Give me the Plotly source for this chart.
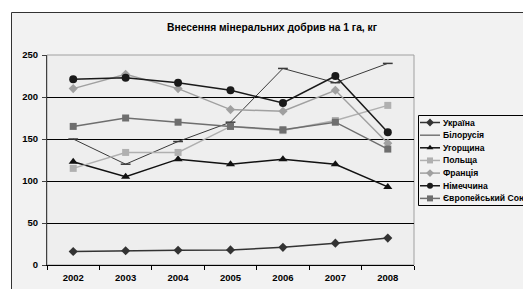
import plotly.graph_objects as go

years = ["2002", "2003", "2004", "2005", "2006", "2007", "2008"]
names = ["Україна", "Білорусія", "Угорщина", "Польща", "Франція", "Німеччина", "Європейський Союз"]
ukraine = [16, 17, 17.5, 18, 21, 26, 32]
belarus = [150, 120, 147, 170, 234, 217, 240]
hungary = [123, 105, 126, 120, 126, 120, 93]
poland = [115, 134, 134, 165, 160, 172, 190]
france = [210, 227, 210, 185, 183, 208, 145]
germany = [221, 223, 217, 208, 193, 225, 158]
eu = [165, 175, 170, 165, 161, 170, 138]
y_ticks = [0, 50, 100, 150, 200, 250]

series = [ukraine, belarus, hungary, poland, france, germany, eu]
colors = ["#333333", "#3a3a3a", "#111111", "#b0b0b0", "#a0a0a0", "#1a1a1a", "#6e6e6e"]
symbols = ["diamond", "line-ew", "triangle-up", "square", "diamond", "circle", "square"]
msizes = [7, 7, 8, 7, 7, 8, 7]
lwidths = [1.5, 1.0, 1.5, 1.5, 1.5, 1.5, 1.5]

W, H = 531, 289
OFF_X, OFF_Y = 8, 8  # page body margin
L, R, T, B = 47, 414, 55, 265  # plot area in page pixels
FONT = "Liberation Sans, Arial"


def px(x):
    return (x - OFF_X) / W


def py(y):
    return 1 - (y - OFF_Y) / H


fig = go.Figure()
for name, vals, c, s, ms, lw in zip(names, series, colors, symbols, msizes, lwidths):
    fig.add_trace(go.Scatter(
        x=years, y=vals, mode="lines+markers", name=name,
        line=dict(color=c, width=lw),
        marker=dict(symbol=s, size=ms, color=c, line=dict(color=c, width=1.5 if s == "line-ew" else 0)),
        showlegend=False, xaxis="x", yaxis="y"))

# custom legend drawn on a page-pixel overlay axis
leg_top, leg_step = 122.5, 12.65
annotations = []
for i, (name, c, s, lw) in enumerate(zip(names, colors, symbols, lwidths)):
    yy = leg_top + i * leg_step
    fig.add_trace(go.Scatter(
        x=[420, 430, 440], y=[yy, yy, yy], mode="lines",
        line=dict(color=c, width=lw), showlegend=False, hoverinfo="skip",
        xaxis="x2", yaxis="y2"))
    if s != "line-ew":
        fig.add_trace(go.Scatter(
            x=[430], y=[yy], mode="markers",
            marker=dict(symbol=s, size=6, color=c), showlegend=False, hoverinfo="skip",
            xaxis="x2", yaxis="y2"))
    annotations.append(dict(x=441, y=yy, xref="x2", yref="y2", text=f"<b>{name}</b>",
                            showarrow=False, xanchor="left", yanchor="middle",
                            font=dict(size=8.6, color="#000000", family=FONT)))

annotations.append(dict(x=272, y=27, xref="x2", yref="y2",
                        text="<b>Внесення мінеральних добрив на 1 га, кг</b>",
                        showarrow=False, xanchor="center", yanchor="middle",
                        font=dict(size=10.3, color="#000000", family=FONT)))

shapes = [
    dict(type="rect", xref="paper", yref="paper", x0=px(11.5), y0=py(12.5), x1=1.1, y1=-0.1,
         line=dict(color="#333333", width=1), fillcolor="#f2f2f2", layer="below"),
    dict(type="rect", xref="paper", yref="paper", x0=px(L), y0=py(T), x1=px(R), y1=py(B),
         line=dict(color="#a0a0a0", width=1), fillcolor="#eeeeee", layer="below"),
    dict(type="rect", xref="paper", yref="paper", x0=px(418.5), y0=py(115.5), x1=1.1, y1=py(205.5),
         line=dict(color="#000000", width=1), fillcolor="rgba(0,0,0,0)", layer="below"),
]

fig.update_layout(
    width=W, height=H,
    margin=dict(l=0, r=0, t=0, b=0, autoexpand=False),
    paper_bgcolor="#ffffff",
    plot_bgcolor="rgba(0,0,0,0)",
    font=dict(family=FONT, color="#000000"),
    shapes=shapes,
    annotations=annotations,
    xaxis=dict(domain=[px(L), px(R)], type="category", range=[-0.5, 6.5],
               tickmode="array", tickvals=years, ticktext=[f"<b>{y}</b>" for y in years],
               tickson="boundaries", ticks="outside", ticklen=4, tickcolor="#000000",
               ticklabelstandoff=4,
               showline=True, linecolor="#000000", linewidth=1, showgrid=False,
               tickfont=dict(size=9.5, family=FONT),
               anchor="y", zeroline=False, automargin=False),
    yaxis=dict(domain=[py(B), py(T)], range=[0, 250],
               tickmode="array", tickvals=y_ticks, ticktext=[f"<b>{v}</b>" for v in y_ticks],
               ticks="outside", ticklen=4, tickcolor="#404040",
               ticklabelstandoff=2,
               showline=True, linecolor="#404040", linewidth=1,
               showgrid=True, gridcolor="#000000", gridwidth=1,
               tickfont=dict(size=9.5, family=FONT),
               anchor="x", zeroline=False, automargin=False),
    xaxis2=dict(domain=[0, 1], range=[OFF_X, OFF_X + W], visible=False, fixedrange=True, anchor="y2"),
    yaxis2=dict(domain=[0, 1], range=[OFF_Y + H, OFF_Y], visible=False, fixedrange=True, anchor="x2"),
)

fig.write_html("out.html")
